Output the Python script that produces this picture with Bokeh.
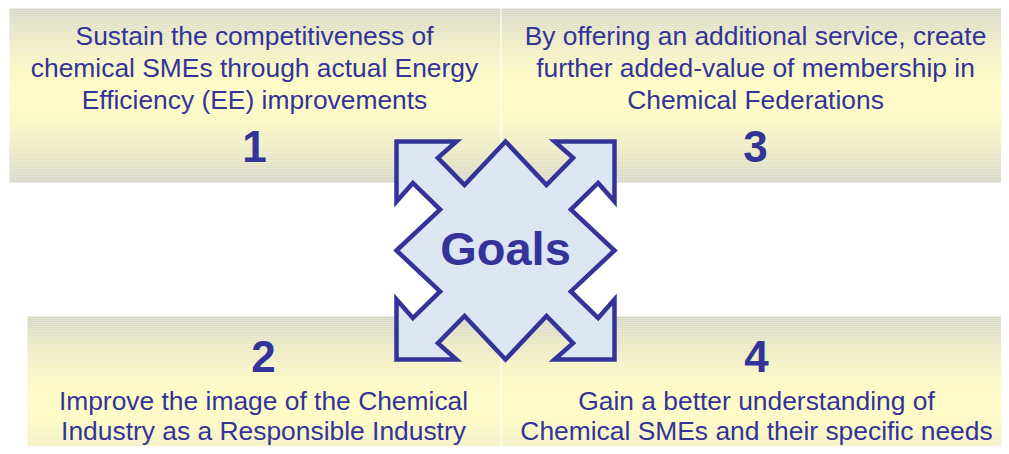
import numpy as np
from bokeh.plotting import figure
from bokeh.models import Range1d
from bokeh.core.properties import value
from bokeh.embed import file_html
from bokeh.resources import INLINE

# ---- content ----
goal_numbers = ["1", "2", "3", "4"]
goal_lines = [
    ["Sustain the competitiveness of",
     "chemical SMEs through actual Energy",
     "Efficiency (EE) improvements"],
    ["Improve the image of the Chemical",
     "Industry as a Responsible Industry"],
    ["By offering an additional service, create",
     "further added-value of membership in",
     "Chemical Federations"],
    ["Gain a better understanding of",
     "Chemical SMEs and their specific needs"],
]
center_label = "Goals"

# ---- layout (pixel space of the picture) ----
layout = [
    dict(box=(9, 500, 8, 182), cx=254, num_y=146, line_y=35, step=32),
    dict(box=(27, 500, 316, 490), cx=263, num_y=356, line_y=400, step=30),
    dict(box=(501, 1009, 8, 182), cx=755, num_y=146, line_y=35, step=32),
    dict(box=(501, 1009, 316, 490), cx=756, num_y=356, line_y=400, step=30),
]
BLUE = "#333399"
EDGE = np.array([214, 214, 198])
MID = np.array([255, 253, 192])
W, H = 1001, 446

p = figure(width=W, height=H, x_range=Range1d(0, W), y_range=Range1d(H, 0),
           output_backend="svg", toolbar_location=None, min_border=0)
p.axis.visible = False
p.grid.visible = False
p.outline_line_color = None
p.background_fill_color = "white"
p.border_fill_color = "white"

# gradient boxes
ql, qr, qt, qb, qc = [], [], [], [], []
for item in layout:
    x0, x1, y0, y1 = item["box"]
    c = (y0 + y1) / 2.0
    h = (y1 - y0) / 2.0
    for y in np.arange(y0, y1, 2.0):
        t = abs((y + 1) - c) / h
        w = min(1.0, t ** 1.6)
        col = (MID * (1 - w) + EDGE * w).astype(int)
        ql.append(x0); qr.append(x1); qt.append(y); qb.append(min(y + 2, y1))
        qc.append("#%02x%02x%02x" % tuple(col))
p.quad(left=ql, right=qr, top=qt, bottom=qb, fill_color=qc, line_color=None)

# faint divider between left and right boxes
p.segment(x0=[500.5, 500.5], y0=[8, 316], x1=[500.5, 500.5], y1=[182, 454],
          line_color="white", line_alpha=0.35, line_width=1)

# text lines and numbers
tx, ty, tt = [], [], []
nx, ny, nt = [], [], []
for num, lines, item in zip(goal_numbers, goal_lines, layout):
    nx.append(item["cx"]); ny.append(item["num_y"]); nt.append(num)
    for i, ln in enumerate(lines):
        tx.append(item["cx"]); ty.append(item["line_y"] + i * item["step"]); tt.append(ln)

p.text(x=tx, y=ty, text=tt, text_align="center", text_baseline="middle",
       text_font=value("Liberation Sans"), text_font_size="26.4px", text_color=BLUE)
p.text(x=nx, y=ny, text=nt, text_align="center", text_baseline="middle",
       text_font=value("Liberation Sans"), text_font_size="44px", text_font_style="bold",
       text_color=BLUE)

# four-way diagonal arrow shape
cx, cy, s = 505, 250, 109
quad_tl = [(-1, 0), (-0.6, -0.376), (-0.85, -0.62), (-1, -0.45), (-1, -1),
           (-0.45, -1), (-0.62, -0.85), (-0.376, -0.6), (0, -1)]
pts = []
pts += quad_tl
pts += [(-u, v) for (u, v) in reversed(quad_tl)][1:]
pts += [(-u, -v) for (u, v) in quad_tl][1:]
pts += [(u, -v) for (u, v) in reversed(quad_tl)][1:-1]
ax = [cx + u * s for u, v in pts]
ay = [cy + v * s for u, v in pts]
p.patch(x=ax, y=ay, fill_color="#dde7f3", line_color=BLUE, line_width=4.5,
        line_join="miter")

p.text(x=[505], y=[248], text=[center_label], text_align="center", text_baseline="middle",
       text_font=value("Liberation Sans"), text_font_size="47px", text_font_style="bold",
       text_color=BLUE)

open("out.html", "w").write(file_html(p, INLINE))
